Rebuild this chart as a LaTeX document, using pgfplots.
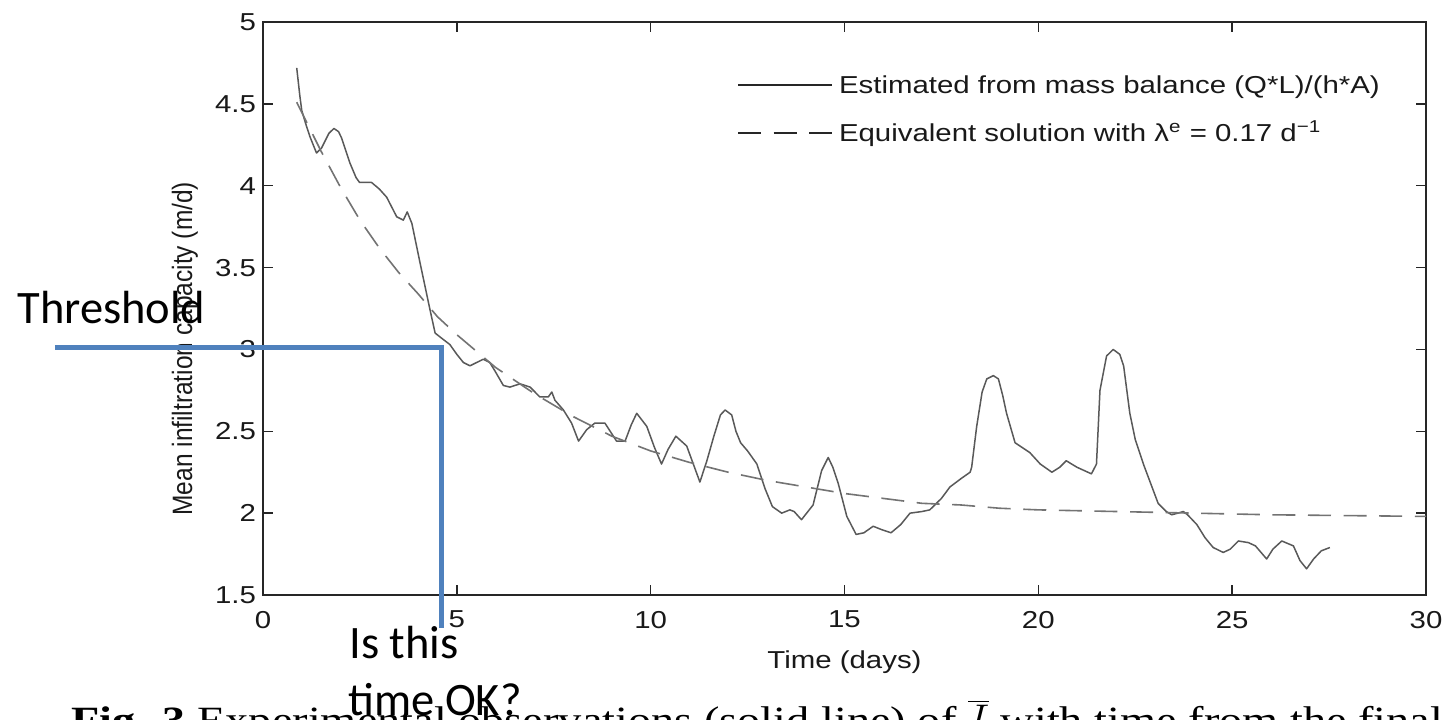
\documentclass[border=0pt]{standalone}
\usepackage{fontspec}
% the source figure is stretched sideways by about 1.2
\setmainfont{Liberation Sans}[FakeStretch=1.2]
\newfontfamily\ylabfont{Liberation Sans}[FakeStretch=0.875]
\newfontfamily\calibri{Carlito}
\newfontfamily\capfont{Liberation Serif}[FakeStretch=1.2]
\usepackage{pgfplots}
\pgfplotsset{compat=1.18}
\definecolor{annblue}{RGB}{79,129,189}

\begin{document}
\begin{tikzpicture}[x=1pt,y=1pt]
% page = 1446x719 px at 0.5pt per px; axis box lower left sits at px (263,595)
\useasboundingbox (-131.5,-62) rectangle (591.5,297.5);
\begin{axis}[
  at={(0pt,0pt)}, anchor=south west,
  scale only axis, width=581.5pt, height=286.5pt,
  xmin=0, xmax=30, ymin=1.5, ymax=5,
  xtick={0,5,...,30}, ytick={1.5,2,...,5},
  tick align=inside, tick pos=both,
  major tick length=5pt,
  tick style={black!85, line width=0.7pt},
  axis line style={black!85, line width=0.9pt},
  font=\fontsize{12.25pt}{15pt}\selectfont,
  /pgf/number format/assume math mode=true,
  ticklabel style={black!90},
  xticklabel style={yshift=-4.5pt},
  xlabel={Time (days)},
  ylabel={Mean infiltration capacity (m/d)},
  xlabel style={at={(axis description cs:0.5,-0.1274)}, anchor=base, black!90},
  ylabel style={at={(axis description cs:-0.061,0.43)}, anchor=base, black!90,
    font=\ylabfont\fontsize{14pt}{17pt}\selectfont},
  clip=false,
  legend style={draw=none, fill=none, at={(axis description cs:0.4076,0.848)},
    anchor=west, inner sep=0pt, outer sep=0pt, row sep=10pt,
    nodes={inner sep=0pt, text height=11pt, text depth=3pt, black!90}},
  legend cell align=left,
  /tikz/every odd column/.style={column sep=3pt},
  legend image code/.code={\draw[#1, black!85, line width=1pt] (0pt,0pt) -- (47pt,0pt);},
]
\addplot[black!65, line width=0.75pt, line join=round] coordinates {
(0.87,4.72) (0.95,4.55) (1.00,4.46) (1.10,4.38) (1.21,4.30) (1.38,4.20)
(1.51,4.23) (1.70,4.32) (1.83,4.35) (1.95,4.33) (2.03,4.29) (2.24,4.14)
(2.40,4.05) (2.49,4.02) (2.80,4.02) (3.00,3.98) (3.19,3.93) (3.45,3.81)
(3.62,3.79) (3.72,3.84) (3.84,3.77) (4.05,3.53) (4.31,3.24) (4.44,3.10)
(4.60,3.07) (4.82,3.03) (5.00,2.97) (5.17,2.92) (5.34,2.90) (5.68,2.94)
(5.85,2.92) (5.98,2.87) (6.20,2.78) (6.37,2.77) (6.63,2.79) (6.89,2.77)
(7.14,2.71) (7.36,2.71) (7.45,2.74) (7.53,2.69) (7.75,2.63) (7.96,2.55)
(8.14,2.44) (8.35,2.51) (8.56,2.55) (8.82,2.55) (9.12,2.44) (9.34,2.44)
(9.50,2.54) (9.64,2.61) (9.90,2.53) (10.10,2.40) (10.28,2.30) (10.45,2.39)
(10.65,2.47) (10.93,2.41) (11.10,2.30) (11.27,2.19) (11.45,2.32) (11.63,2.47)
(11.80,2.60) (11.92,2.63) (12.09,2.60) (12.20,2.50) (12.32,2.43) (12.50,2.38)
(12.74,2.30) (12.95,2.15) (13.14,2.04) (13.38,2.00) (13.59,2.02) (13.70,2.01)
(13.89,1.96) (14.19,2.05) (14.41,2.26) (14.58,2.34) (14.70,2.28) (14.84,2.18)
(15.06,1.98) (15.30,1.87) (15.50,1.88) (15.74,1.92) (15.95,1.90) (16.20,1.88)
(16.45,1.93) (16.69,2.00) (17.00,2.01) (17.20,2.02) (17.50,2.09) (17.72,2.16)
(18.00,2.21) (18.24,2.25) (18.28,2.28) (18.41,2.53) (18.55,2.74) (18.67,2.82)
(18.84,2.84) (18.97,2.82) (19.08,2.72) (19.18,2.61) (19.40,2.43) (19.78,2.37)
(20.05,2.30) (20.35,2.25) (20.55,2.28) (20.72,2.32) (21.00,2.28) (21.37,2.24)
(21.50,2.30) (21.59,2.75) (21.76,2.96) (21.93,3.00) (22.10,2.97) (22.20,2.90)
(22.36,2.61) (22.50,2.45) (22.71,2.30) (22.90,2.18) (23.09,2.06) (23.30,2.01)
(23.44,1.99) (23.60,2.00) (23.74,2.01) (23.85,1.99) (24.09,1.93) (24.30,1.85)
(24.51,1.79) (24.77,1.76) (24.95,1.78) (25.16,1.83) (25.42,1.82) (25.60,1.80)
(25.89,1.72) (26.05,1.78) (26.28,1.83) (26.58,1.80) (26.75,1.71) (26.92,1.66)
(27.10,1.72) (27.30,1.77) (27.52,1.79)
};
\addlegendentry{Estimated from mass balance (Q*L)/(h*A)}
\addplot[black!55, line width=0.8pt, dash pattern=on 11.5pt off 6.3pt] coordinates {
(0.87,4.51) (1.5,4.21) (2,3.99) (2.5,3.79) (3,3.62) (3.5,3.47) (4,3.34)
(4.5,3.20) (5,3.09) (5.5,2.99) (6,2.89) (7,2.73) (8,2.59) (9,2.47)
(10,2.38) (11,2.31) (12,2.25) (13,2.20) (14,2.16) (15,2.12) (16,2.09)
(17,2.06) (18,2.05) (19,2.03) (20,2.02) (22,2.01) (24,2.00) (26,1.99)
(28,1.985) (30,1.98)
};
\addlegendentry{Equivalent solution with λ\textsuperscript{e} = 0.17 d\textsuperscript{−1}}
\end{axis}
% annotations laid over the figure
\draw[annblue, line width=2.5pt, line join=miter] (-104,124) -- (89,124) -- (89,-16.5);
\node[anchor=base west, inner sep=0pt, font=\calibri\fontsize{23.25pt}{28pt}\selectfont] at (-123,136) {Threshold};
\node[anchor=base west, inner sep=0pt, font=\calibri\fontsize{23.25pt}{28pt}\selectfont] at (43,-31.5) {Is this};
\node[anchor=base west, inner sep=0pt, font=\calibri\fontsize{23.25pt}{28pt}\selectfont] at (42.5,-60) {time OK?};
\node[anchor=base west, inner sep=0pt, font=\capfont\fontsize{19.3pt}{22pt}\selectfont] at (-96,-69)
  {\textbf{Fig. 3} Experimental observations (solid line) of $\overline{I}$ with time from the final};
\end{tikzpicture}
\end{document}
